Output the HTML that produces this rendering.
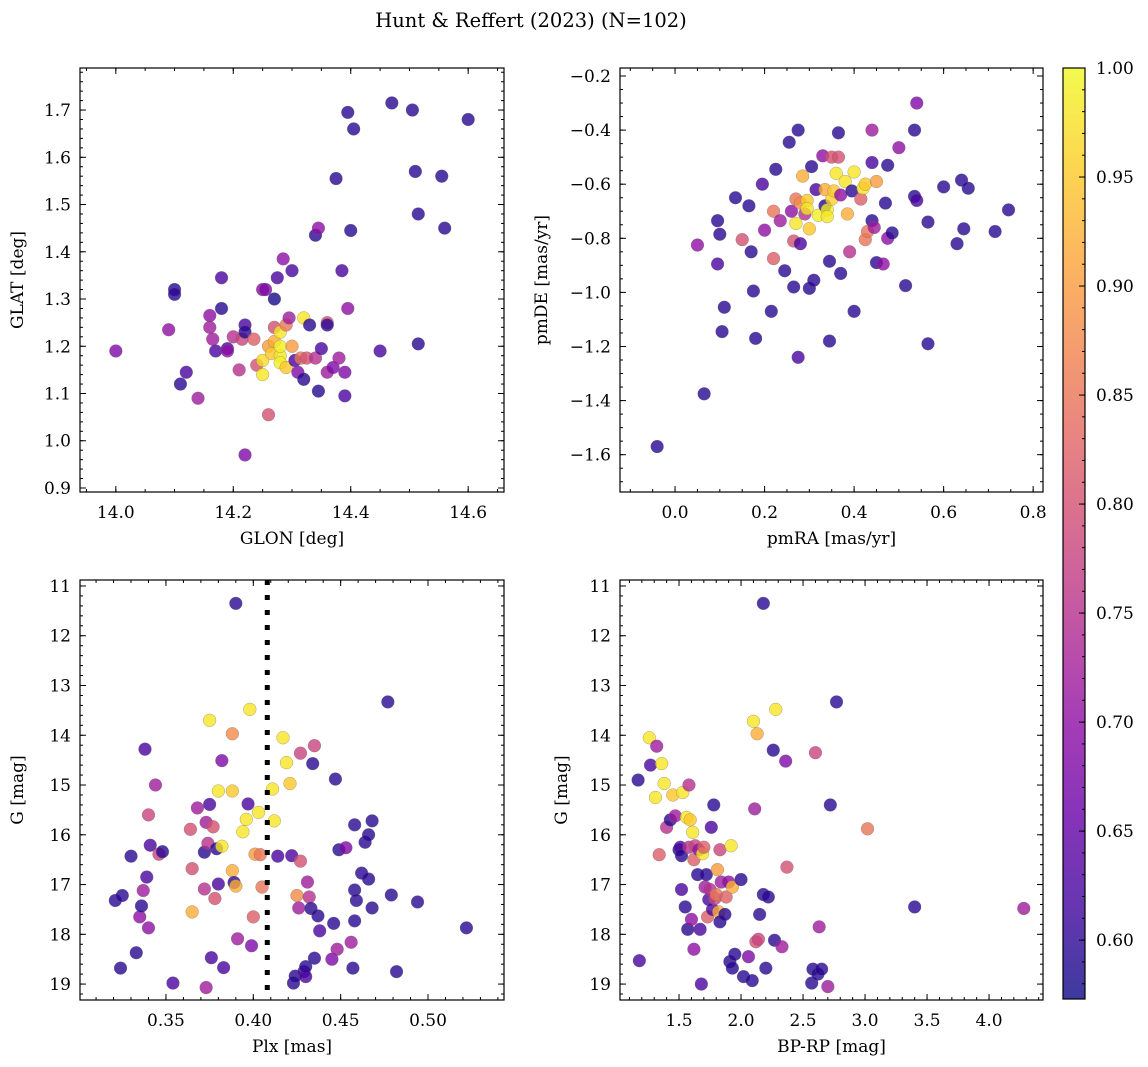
<!DOCTYPE html>
<html><head><meta charset="utf-8"><style>
html,body{margin:0;padding:0;background:#fff;}
svg{display:block;font-family:"DejaVu Serif","Liberation Serif",serif;}
</style></head><body>
<svg id="fig" width="1148" height="1067" viewBox="0 0 1148 1067" xmlns="http://www.w3.org/2000/svg">
<text x="531" y="27" font-size="19.5" text-anchor="middle">Hunt &amp; Reffert (2023) (N=102)</text>
</svg>
<script>
// ---- Panel 1: GLON / GLAT / probability
const p1Glon=[14.00,14.10,14.10,14.11,14.09,14.12,14.14,14.16,14.16,14.165,14.17,14.18,14.18,14.19,14.19,14.20,14.21,14.215,14.22,14.22,14.22,14.235,14.24,14.25,14.255,14.25,14.25,14.26,14.26,14.265,14.27,14.27,14.27,14.275,14.28,14.28,14.28,14.28,14.285,14.29,14.29,14.295,14.30,14.30,14.305,14.31,14.315,14.32,14.32,14.325,14.33,14.34,14.34,14.345,14.345,14.35,14.36,14.36,14.36,14.37,14.375,14.38,14.385,14.39,14.39,14.395,14.395,14.40,14.405,14.45,14.47,14.505,14.51,14.515,14.515,14.555,14.56,14.60];
const p1Glat=[1.19,1.32,1.31,1.12,1.235,1.145,1.09,1.265,1.24,1.215,1.19,1.345,1.28,1.195,1.19,1.22,1.15,1.215,1.245,1.23,0.97,1.215,1.16,1.32,1.32,1.17,1.14,1.20,1.055,1.185,1.24,1.21,1.30,1.345,1.18,1.165,1.20,1.23,1.385,1.245,1.155,1.26,1.20,1.36,1.17,1.145,1.175,1.26,1.13,1.175,1.245,1.435,1.175,1.45,1.105,1.195,1.145,1.25,1.245,1.155,1.555,1.175,1.36,1.145,1.095,1.695,1.28,1.445,1.66,1.19,1.715,1.70,1.57,1.48,1.205,1.56,1.45,1.68];
const p1Prob=[.68,.595,.595,.595,.70,.625,.72,.70,.72,.72,.625,.625,.595,.625,.70,.75,.75,.78,.625,.595,.68,.82,.80,.70,.68,.97,.98,.90,.80,.95,.80,.92,.58,.625,.98,.99,.99,.98,.70,.85,.95,.72,.90,.625,.625,.68,.85,.98,.595,.80,.595,.595,.75,.70,.595,.625,.72,.80,.595,.68,.595,.72,.625,.68,.625,.595,.70,.595,.595,.625,.595,.595,.595,.595,.595,.595,.595,.595];
// ---- Panel 2: pmRA / pmDE / probability
const p2PmRA=[-0.04,0.065,0.05,0.095,0.095,0.10,0.11,0.105,0.135,0.15,0.165,0.17,0.175,0.18,0.195,0.20,0.215,0.22,0.22,0.225,0.235,0.245,0.255,0.26,0.265,0.265,0.27,0.27,0.275,0.275,0.28,0.28,0.285,0.29,0.295,0.295,0.30,0.30,0.305,0.31,0.315,0.32,0.33,0.335,0.335,0.34,0.34,0.345,0.345,0.35,0.35,0.355,0.36,0.365,0.365,0.37,0.37,0.38,0.385,0.39,0.395,0.40,0.40,0.415,0.42,0.425,0.425,0.43,0.44,0.44,0.44,0.445,0.45,0.45,0.465,0.47,0.475,0.475,0.485,0.50,0.515,0.535,0.535,0.54,0.54,0.565,0.565,0.60,0.63,0.64,0.645,0.655,0.715,0.745];
const p2PmDE=[-1.57,-1.375,-0.825,-0.735,-0.895,-0.785,-1.055,-1.145,-0.65,-0.805,-0.68,-0.85,-0.995,-1.17,-0.60,-0.77,-1.07,-0.875,-0.70,-0.545,-0.735,-0.92,-0.445,-0.70,-0.81,-0.98,-0.655,-0.745,-1.24,-0.40,-0.82,-0.67,-0.57,-0.71,-0.66,-0.69,-0.765,-0.985,-0.535,-0.955,-0.62,-0.715,-0.495,-0.62,-0.68,-0.695,-0.72,-0.885,-1.18,-0.50,-0.655,-0.625,-0.56,-0.41,-0.50,-0.64,-0.93,-0.59,-0.71,-0.85,-0.625,-0.555,-1.07,-0.655,-0.615,-0.60,-0.805,-0.775,-0.52,-0.40,-0.735,-0.76,-0.59,-0.89,-0.895,-0.67,-0.53,-0.80,-0.78,-0.465,-0.975,-0.40,-0.645,-0.30,-0.66,-0.74,-1.19,-0.61,-0.82,-0.585,-0.765,-0.615,-0.775,-0.695];
const p2Prob=[.595,.595,.70,.595,.625,.595,.595,.595,.595,.80,.595,.595,.595,.595,.625,.70,.595,.82,.85,.595,.72,.595,.595,.70,.80,.595,.85,.98,.625,.595,.625,.88,.92,.75,.95,.98,.95,.595,.595,.595,.625,.99,.70,.92,.595,.99,.98,.595,.595,.80,.96,.95,.98,.595,.80,.70,.595,.98,.92,.75,.595,.98,.595,.82,.98,.95,.85,.85,.625,.72,.595,.72,.90,.595,.70,.595,.595,.70,.595,.70,.595,.595,.595,.68,.625,.595,.595,.595,.595,.595,.595,.595,.595,.595];
// ---- Panel 3: Plx / G / probability
const p3Plx=[0.321,0.324,0.325,0.330,0.333,0.335,0.336,0.337,0.338,0.339,0.340,0.340,0.341,0.344,0.346,0.348,0.354,0.364,0.365,0.365,0.368,0.372,0.372,0.373,0.373,0.374,0.375,0.375,0.376,0.377,0.378,0.379,0.380,0.380,0.382,0.382,0.383,0.388,0.388,0.388,0.389,0.390,0.390,0.391,0.394,0.396,0.397,0.398,0.399,0.400,0.401,0.403,0.404,0.405,0.411,0.412,0.414,0.417,0.419,0.421,0.422,0.423,0.424,0.425,0.426,0.427,0.427,0.429,0.430,0.430,0.431,0.432,0.433,0.434,0.435,0.435,0.437,0.438,0.445,0.446,0.447,0.448,0.449,0.453,0.456,0.457,0.458,0.458,0.458,0.459,0.462,0.464,0.466,0.466,0.468,0.468,0.477,0.479,0.482,0.494,0.522];
const p3G=[17.32,18.68,17.22,16.43,18.37,17.65,17.43,17.12,14.28,16.85,15.60,17.87,16.21,15.00,16.39,16.34,18.98,15.89,17.55,16.68,15.46,16.35,17.09,15.75,19.07,16.17,13.70,15.39,18.47,15.84,17.28,16.28,15.12,16.99,14.51,16.23,18.67,15.12,16.72,13.97,16.96,11.35,17.03,18.09,15.94,15.69,15.38,13.48,18.23,17.65,16.39,15.55,16.40,17.05,15.08,15.72,16.43,14.05,14.55,14.97,16.42,18.98,18.84,17.22,17.47,16.53,14.36,18.75,18.85,18.65,16.95,17.25,17.48,14.57,18.48,14.21,17.63,17.93,18.50,17.78,14.88,18.30,16.30,16.26,18.16,18.68,17.11,17.73,15.80,17.32,16.77,16.15,16.00,16.89,15.72,17.47,13.33,17.21,18.75,17.35,17.87];
const p3Prob=[.595,.595,.595,.595,.595,.70,.595,.72,.625,.625,.78,.70,.625,.72,.78,.595,.625,.80,.92,.80,.72,.595,.75,.72,.72,.75,.98,.625,.625,.80,.80,.595,.98,.625,.68,.98,.625,.95,.92,.88,.595,.595,.92,.72,.98,.98,.625,.98,.68,.82,.90,.98,.85,.85,.98,.98,.625,.98,.98,.95,.625,.595,.595,.88,.72,.80,.78,.625,.625,.595,.72,.75,.595,.595,.595,.78,.595,.625,.68,.595,.595,.72,.595,.68,.72,.595,.595,.595,.595,.595,.595,.595,.595,.595,.595,.595,.595,.595,.595,.595,.595];
const p3PlxLine=0.408;
// ---- Panel 4: BP-RP / G / probability
const p4Color=[1.17,1.18,1.26,1.27,1.31,1.32,1.34,1.36,1.38,1.40,1.43,1.45,1.47,1.50,1.51,1.52,1.52,1.53,1.55,1.56,1.57,1.58,1.58,1.59,1.60,1.61,1.62,1.62,1.63,1.65,1.66,1.67,1.68,1.69,1.70,1.71,1.72,1.73,1.74,1.75,1.76,1.77,1.78,1.79,1.80,1.81,1.82,1.83,1.83,1.84,1.87,1.88,1.90,1.91,1.92,1.93,1.93,1.95,2.00,2.02,2.06,2.09,2.10,2.11,2.12,2.13,2.14,2.15,2.18,2.18,2.20,2.22,2.26,2.27,2.28,2.33,2.36,2.37,2.57,2.58,2.60,2.62,2.63,2.65,2.70,2.72,2.77,3.02,3.40,4.28];
const p4G=[14.90,18.53,14.05,14.60,15.25,14.22,16.40,14.57,14.97,15.85,15.70,15.20,15.62,16.30,16.25,16.42,17.10,15.15,17.45,15.65,17.90,15.00,16.25,15.70,17.70,15.95,18.30,16.50,16.22,16.80,16.30,17.90,19.00,16.38,16.25,17.05,16.80,17.65,17.30,17.10,15.85,17.50,15.40,17.28,17.20,16.70,17.55,17.75,16.30,16.95,17.60,17.25,16.95,18.55,16.22,17.05,18.68,18.40,16.90,18.85,18.45,18.93,13.72,15.48,18.15,13.97,18.10,17.60,17.20,11.35,18.68,17.25,14.30,18.12,13.48,18.25,14.52,16.65,18.98,18.70,14.35,18.80,17.85,18.70,19.05,15.40,13.33,15.88,17.45,17.48];
const p4Prob=[.595,.625,.98,.625,.98,.72,.82,.98,.98,.75,.595,.95,.72,.595,.625,.595,.625,.98,.595,.98,.595,.75,.75,.95,.70,.98,.70,.82,.78,.595,.70,.625,.625,.98,.82,.72,.595,.82,.625,.75,.625,.625,.595,.78,.85,.90,.92,.595,.78,.72,.595,.82,.70,.595,.98,.92,.595,.595,.595,.595,.68,.595,.98,.72,.80,.92,.78,.595,.595,.595,.595,.595,.595,.595,.98,.72,.68,.80,.595,.595,.78,.595,.72,.595,.72,.595,.595,.85,.595,.72];
// ---- Colorbar ticks
const cbTicks=[0.60,0.65,0.70,0.75,0.80,0.85,0.90,0.95,1.00];

const NS="http://www.w3.org/2000/svg";
const svg=document.getElementById('fig');
const VMIN=0.573, VMAX=1.0;
const stops=[[13,8,135],[65,4,157],[106,0,168],[143,13,164],[177,42,144],[204,71,120],[225,100,98],[242,132,75],[252,166,54],[252,206,37],[240,249,33]];
function plasma(v){let t=(v-VMIN)/(VMAX-VMIN);t=Math.max(0,Math.min(1,t))*10;const i=Math.min(9,Math.floor(t)),f=t-i;const a=stops[i],b=stops[i+1];return 'rgb('+a.map((c,k)=>Math.round(c+(b[k]-c)*f)).join(',')+')';}
function mk(tag,attrs,parent){const e=document.createElementNS(NS,tag);for(const k in attrs)e.setAttribute(k,attrs[k]);(parent||svg).appendChild(e);return e;}
function fmt(v,d){return (v<0?'\u2212':'')+Math.abs(v).toFixed(d);}

function panel(o){
  const g=mk('g',{});
  
  
  const X=v=>o.x0+(v-o.xmin)/(o.xmax-o.xmin)*(o.x1-o.x0);
  const Y=v=>o.invert? o.y0+(v-o.ymin)/(o.ymax-o.ymin)*(o.y1-o.y0) : o.y1-(v-o.ymin)/(o.ymax-o.ymin)*(o.y1-o.y0);
  const tg=mk('g',{stroke:'#000','stroke-width':1},g);
  function ticksX(step,len,major){const s=Math.ceil(o.xmin/step-1e-6);for(let i=s;i*step<=o.xmax+1e-9;i++){const v=i*step,px=X(v);
    const t1=mk('line',{x1:px,x2:px,y1:o.y1,y2:o.y1-len},tg);
    mk('line',{x1:px,x2:px,y1:o.y0,y2:o.y0+len},tg);
    if(major){const t=mk('text',{x:px,y:o.y1+26,'font-size':17,'text-anchor':'middle',stroke:'none'},g);t.textContent=fmt(v,o.xd);}}}
  function ticksY(step,len,major){const lo=Math.min(o.ymin,o.ymax),hi=Math.max(o.ymin,o.ymax);const s=Math.ceil(lo/step-1e-6);for(let i=s;i*step<=hi+1e-9;i++){const v=i*step,py=Y(v);
    const t1=mk('line',{x1:o.x0,x2:o.x0+len,y1:py,y2:py},tg);
    mk('line',{x1:o.x1,x2:o.x1-len,y1:py,y2:py},tg);
    if(major){const t=mk('text',{x:o.x0-9,y:py+6,'font-size':17,'text-anchor':'end',stroke:'none'},g);t.textContent=fmt(v,o.yd);}}}
  ticksX(o.xmaj,6,true);ticksX(o.xmin_,3,false);ticksY(o.ymaj,6,true);ticksY(o.ymin_,3,false);
  const pg=mk('g',{},g);
  
  
  for(let i=0;i<o.xs.length;i++){
    const c=mk('circle',{cx:X(o.xs[i]),cy:Y(o.ys[i]),r:6.4,fill:plasma(o.ps[i]),'fill-opacity':0.8,stroke:'#666','stroke-width':0.4,'stroke-opacity':0.7},pg);
    
    
  }
  if(o.vline!==undefined){const l=mk('line',{x1:X(o.vline),x2:X(o.vline),y1:o.y0,y2:o.y1,stroke:'#000','stroke-width':5,'stroke-dasharray':'5,10'},g);
    }
  const fr=mk('rect',{x:o.x0,y:o.y0,width:o.x1-o.x0,height:o.y1-o.y0,fill:'none',stroke:'#000','stroke-width':1.2},g);
  
  const xl=mk('text',{x:(o.x0+o.x1)/2,y:o.y1+52,'font-size':17,'text-anchor':'middle'},g);xl.textContent=o.xlabel;
  
  const cy=(o.y0+o.y1)/2;
  const yl=mk('text',{x:o.ylx,y:cy,'font-size':17,'text-anchor':'middle',transform:'rotate(-90 '+o.ylx+' '+cy+')'},g);yl.textContent=o.ylabel;
  
}

panel({name:'glon-glat-panel',x0:80,x1:504,y0:68,y1:492,xmin:13.939,xmax:14.661,ymin:0.8915,ymax:1.789,xmaj:0.2,xmin_:0.05,ymaj:0.1,ymin_:0.02,xd:1,yd:1,xs:p1Glon,ys:p1Glat,ps:p1Prob,xlabel:'GLON [deg]',ylabel:'GLAT [deg]',ylx:23});
panel({name:'proper-motion-panel',x0:620,x1:1043,y0:68,y1:492,xmin:-0.123,xmax:0.822,ymin:-1.738,ymax:-0.1704,xmaj:0.2,xmin_:0.05,ymaj:0.2,ymin_:0.05,xd:1,yd:1,xs:p2PmRA,ys:p2PmDE,ps:p2Prob,xlabel:'pmRA [mas/yr]',ylabel:'pmDE [mas/yr]',ylx:547});
panel({name:'parallax-magnitude-panel',x0:80,x1:504,y0:580,y1:1000,xmin:0.3008,xmax:0.5435,ymin:10.88,ymax:19.32,invert:true,xmaj:0.05,xmin_:0.01,ymaj:1,ymin_:0.2,xd:2,yd:0,xs:p3Plx,ys:p3G,ps:p3Prob,vline:p3PlxLine,xlabel:'Plx [mas]',ylabel:'G [mag]',ylx:23});
panel({name:'cmd-panel',x0:620,x1:1043,y0:580,y1:1000,xmin:1.024,xmax:4.435,ymin:10.88,ymax:19.32,invert:true,xmaj:0.5,xmin_:0.1,ymaj:1,ymin_:0.2,xd:1,yd:0,xs:p4Color,ys:p4G,ps:p4Prob,xlabel:'BP-RP [mag]',ylabel:'G [mag]',ylx:567});

(function(){
  const x0=1063,x1=1085,y0=68,y1=999;
  const Y=v=>y1-(v-VMIN)/(VMAX-VMIN)*(y1-y0);
  const defs=mk('defs',{});
  const lg=mk('linearGradient',{id:'cbg',x1:0,y1:1,x2:0,y2:0},defs);
  for(let i=0;i<=10;i++){mk('stop',{offset:(i*10)+'%','stop-color':'rgb('+stops[i].join(',')+')','stop-opacity':0.8},lg);}
  const g=mk('g',{});
  
  
  mk('rect',{x:x0,y:y0,width:x1-x0,height:y1-y0,fill:'url(#cbg)'},g);
  for(let v=0.58;v<=1.0001;v+=0.01){const py=Y(v);mk('line',{x1:x1,x2:x1-3,y1:py,y2:py,stroke:'#000','stroke-width':1},g);}
  cbTicks.forEach(v=>{const py=Y(v);mk('line',{x1:x1,x2:x1-6,y1:py,y2:py,stroke:'#000','stroke-width':1},g);
    const t=mk('text',{x:x1+11,y:py+6,'font-size':17},g);t.textContent=v.toFixed(2);
    });
  mk('rect',{x:x0,y:y0,width:x1-x0,height:y1-y0,fill:'none',stroke:'#000','stroke-width':1.2},g);
})();
</script>
</body></html>
